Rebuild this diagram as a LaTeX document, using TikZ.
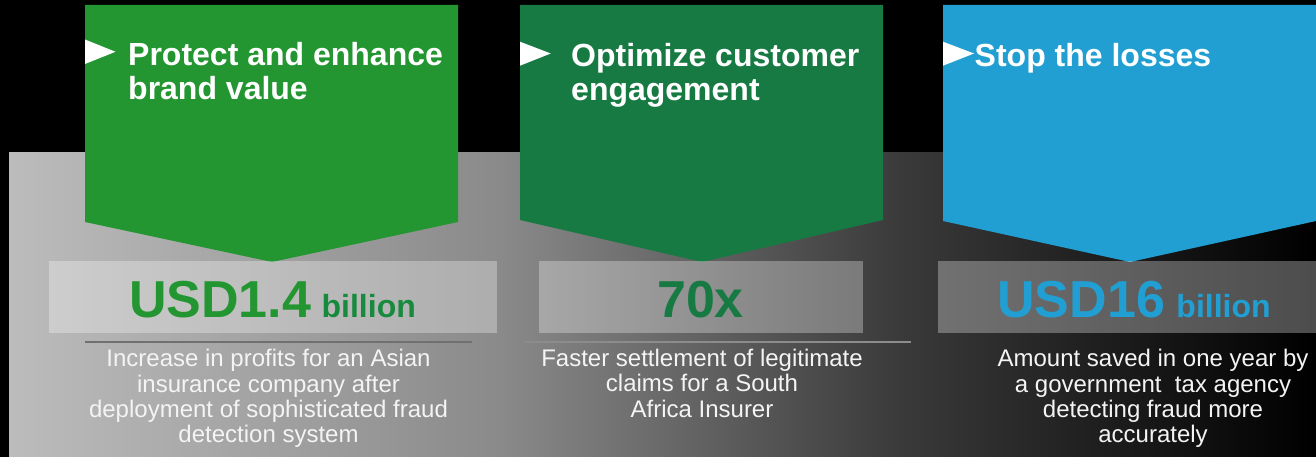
\documentclass[tikz,border=0pt]{standalone}
\usepackage{fontspec}
\setmainfont{Liberation Sans}
\definecolor{greenA}{HTML}{239631}
\definecolor{greenAdark}{HTML}{188A3E}
\definecolor{greenB}{HTML}{177A43}
\definecolor{blueC}{HTML}{229FD2}
\definecolor{bandA}{HTML}{BCBCBC}
\definecolor{bandB}{HTML}{8A8A8A}
\definecolor{bandC}{HTML}{3A3A3A}
\definecolor{bandD}{HTML}{000000}
\definecolor{descText}{HTML}{F4F4F4}
\definecolor{sepA}{HTML}{707070}
\definecolor{sepB}{HTML}{8C8C8C}
\pgfdeclarehorizontalshading{bandshade}{100bp}{color(0bp)=(bandA); color(25bp)=(bandA); color(43.78bp)=(bandB); color(59.09bp)=(bandC); color(75bp)=(bandD); color(100bp)=(bandD)}
\begin{document}
\begin{tikzpicture}[x=1pt,y=-1pt,
  titletext/.style={anchor=base west, inner sep=0pt, text=white, font=\bfseries\fontsize{32}{34}\selectfont},
  desctext/.style={anchor=base, inner sep=0pt, text=descText, font=\fontsize{24}{25.3}\selectfont},
  bignum/.style={anchor=base, inner sep=0pt, font=\bfseries\fontsize{52}{56}\selectfont},
  numbox/.style={fill=white, fill opacity=0.3, draw=none},
  playtri/.style={fill=white, draw=none},
  sepline/.style={line width=1.6pt}]
\useasboundingbox (0,0) rectangle (1316,457);
\fill[black] (0,0) rectangle (1316,457);
% gradient band
\shade[shading=bandshade] (9,153) rectangle (1316,457);
% pentagons
\fill[greenA] (85,5) -- (458,5) -- (458,222) -- (272,262) -- (85,222) -- cycle;
\fill[greenB] (520,5) -- (883,5) -- (883,220) -- (702,262) -- (520,220) -- cycle;
\fill[blueC] (943,5) -- (1316,5) -- (1316,221) -- (1130,262) -- (943,221) -- cycle;
% play triangles
\fill[playtri] (85,39.5) -- (115.5,51.8) -- (85,64) -- cycle;
\fill[playtri] (520,41.7) -- (550.7,53.5) -- (520,65.7) -- cycle;
\fill[playtri] (943,41.7) -- (974,53.5) -- (943,65.7) -- cycle;
% titles
\node[titletext] (t1) at (128,65.3) {\parbox[t]{330pt}{Protect and enhance\\brand value}};
\node[titletext] (t2) at (571,66.7) {\parbox[t]{310pt}{Optimize customer\\engagement}};
\node[titletext] (t3) at (974.5,66.7) {Stop the losses};
% number boxes
\fill[numbox] (49,261) rectangle (497,333);
\fill[numbox] (539,261) rectangle (863,333);
\fill[numbox] (938,261) rectangle (1316,333);
% big numbers
\node[bignum, text=greenA] (n1) at (272.5,317) {USD1.4\hspace{0.2em}{\color{greenAdark}\fontsize{32}{34}\selectfont billion}};
\node[bignum, text=greenB] (n2) at (700.5,317) {70x};
\node[bignum, text=blueC] (n3) at (1134,317) {USD16\hspace{0.05em}{\fontsize{32}{34}\selectfont\ billion}};
% separators
\coordinate (s1a) at (85,342);
\coordinate (s1b) at (472,342);
\coordinate (s2a) at (524,342);
\coordinate (s2b) at (911,342);
\draw[sepline, sepA] (s1a) -- (s1b);
\draw[sepline, sepB] (s2a) -- (s2b);
% descriptions
\node[desctext] (d1) at (268.5,366.7) {\parbox[t]{400pt}{\centering Increase in profits for an Asian\\insurance company after\\deployment of sophisticated fraud\\detection system}};
\node[desctext] (d2) at (702,366.5) {\parbox[t]{400pt}{\centering Faster settlement of legitimate\\claims for a South\\Africa Insurer}};
\node[desctext] (d3) at (1153,366.7) {\parbox[t]{400pt}{\centering Amount saved in one year by\\a government\ \ tax agency\\detecting fraud more\\accurately}};
\end{tikzpicture}
\end{document}
